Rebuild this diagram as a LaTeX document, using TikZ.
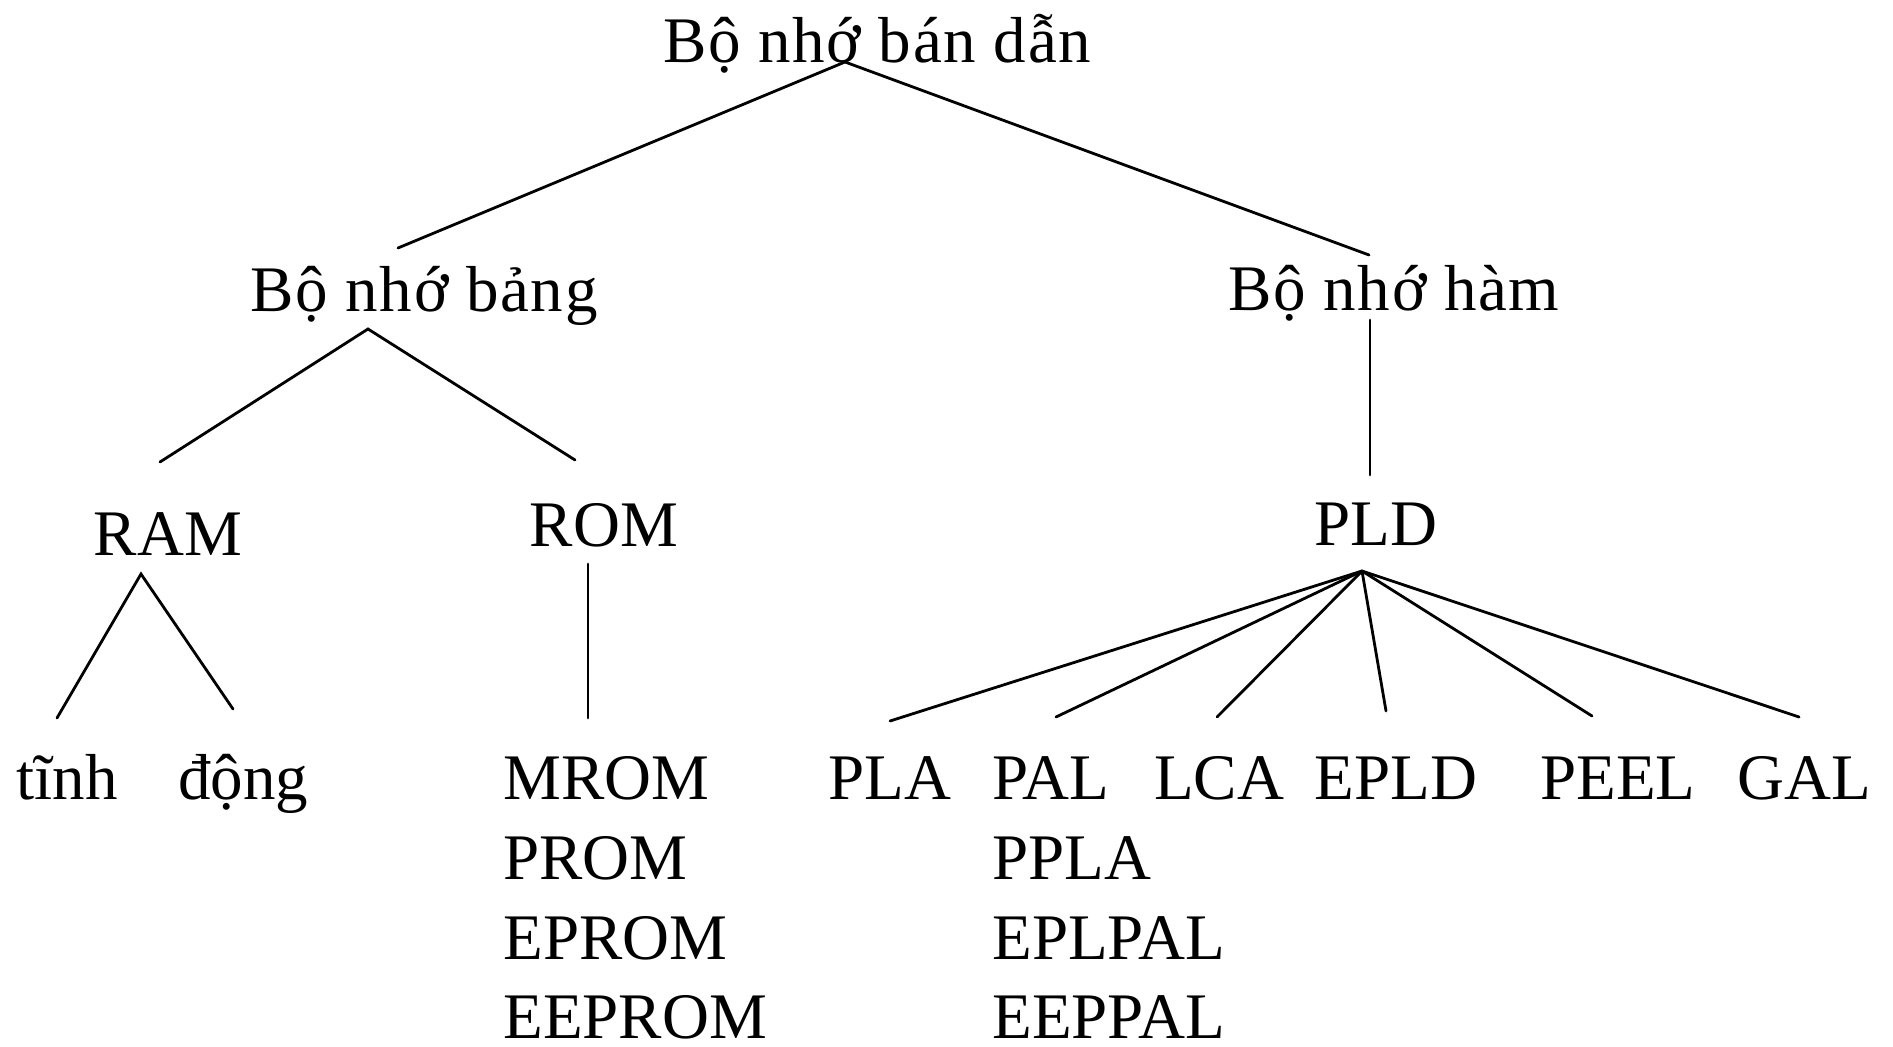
\documentclass[tikz,border=0pt]{standalone}
\usepackage{fontspec}
\setmainfont{Liberation Serif}
\newfontfamily\widefont[LetterSpace=2.5]{Liberation Serif}
\begin{document}
\begin{tikzpicture}[x=0.5pt,y=-0.5pt,
  lbl/.style={inner sep=0pt,anchor=base,font=\fontsize{32.5}{38}\selectfont},
  lblw/.style={lbl,anchor=base west},
  phrase/.style={lbl,font=\widefont\fontsize{32.5}{38}\selectfont},
  edge/.style={line width=1.4pt,line cap=round}]
\useasboundingbox (0,0) rectangle (1893,1047);

% ---- labels ----
\node[phrase] (root) at (877,63) {Bộ nhớ bán dẫn};
\node[phrase] (tbl)  at (424,312) {Bộ nhớ bảng};
\node[phrase] (ham)  at (1394,311) {Bộ nhớ hàm};
\node[lbl] (ram)  at (168,555) {RAM};
\node[lbl] (rom)  at (604,546) {ROM};
\node[lbl] (pld)  at (1376,545) {PLD};
\node[lbl] (tinh) at (67,799) {tĩnh};
\node[lbl] (dong) at (243,799) {động};
\node[lblw] (mrom)   at (503,799)  {MROM};
\node[lblw] (prom)   at (503,879)  {PROM};
\node[lblw] (eprom)  at (503,959)  {EPROM};
\node[lblw] (eeprom) at (503,1038) {EEPROM};
\node[lbl] (pla)  at (890,799) {PLA};
\node[lblw] (pal)    at (992,799)  {PAL};
\node[lblw] (ppla)   at (992,879)  {PPLA};
\node[lblw] (eplpal) at (992,959)  {EPLPAL};
\node[lblw] (eeppal) at (992,1038) {EEPPAL};
\node[lbl] (lca)  at (1219,799) {LCA};
\node[lbl] (epld) at (1396,799) {EPLD};
\node[lbl] (peel) at (1618,799) {PEEL};
\node[lbl] (gal)  at (1804,799) {GAL};

% ---- connector end points ----
\coordinate (root-o) at (845,62);
\coordinate (tbl-i)  at (398,248);
\coordinate (ham-i)  at (1369,255);
\coordinate (tbl-o)  at (368,329);
\coordinate (ram-i)  at (160,462);
\coordinate (rom-i)  at (575,460);
\coordinate (ham-o)  at (1370,320);
\coordinate (pld-i)  at (1370,475);
\coordinate (ram-o)  at (141,574);
\coordinate (tinh-i) at (57,718);
\coordinate (dong-i) at (233,709);
\coordinate (rom-o)  at (588,564);
\coordinate (mrom-i) at (588,718);
\coordinate (pld-o)  at (1362,571);
\coordinate (pla-i)  at (890,721);
\coordinate (pal-i)  at (1056,717);
\coordinate (lca-i)  at (1217,717);
\coordinate (epld-i) at (1386,711);
\coordinate (peel-i) at (1592,716);
\coordinate (gal-i)  at (1799,717);

% ---- connectors ----
\draw[edge] (tbl-i) -- (root-o) -- (ham-i);
\draw[edge] (ram-i) -- (tbl-o) -- (rom-i);
\draw[edge] (ham-o) -- (pld-i);
\draw[edge] (tinh-i) -- (ram-o) -- (dong-i);
\draw[edge] (rom-o) -- (mrom-i);
\foreach \t in {pla,pal,lca,epld,peel,gal}
  \draw[edge] (pld-o) -- (\t-i);
\end{tikzpicture}
\end{document}
